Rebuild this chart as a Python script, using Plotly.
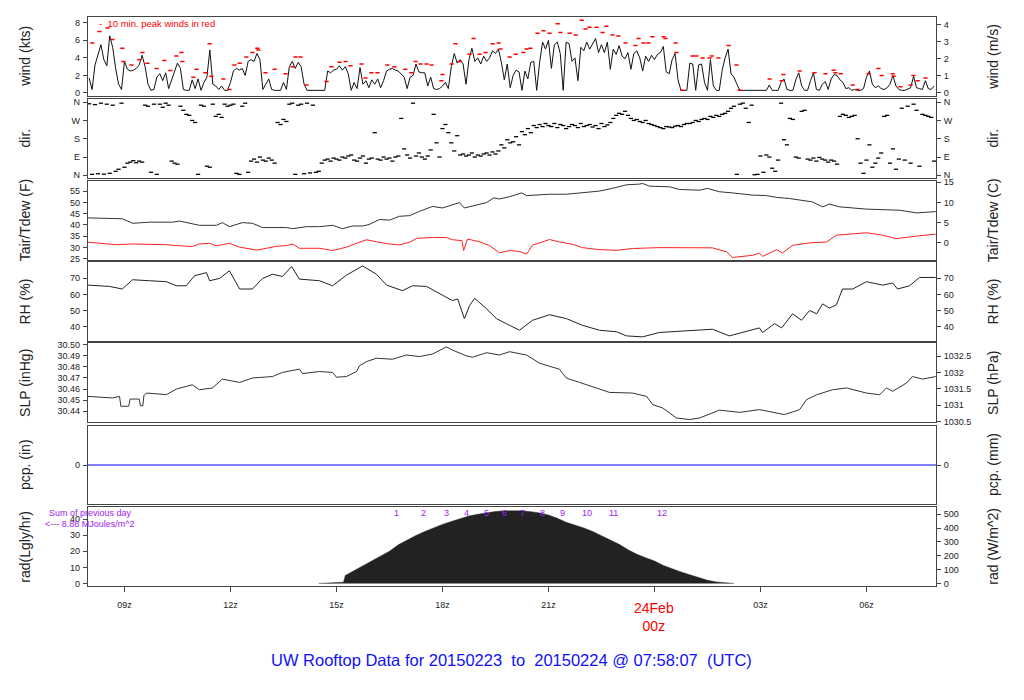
import plotly.graph_objects as go

T_START = 7.968
T_END = 31.968

# ---------------- data ----------------
# 5-minute wind speed (kts), starting 08:00z Feb 23
wind_kts = [
    1.7, 0.4, 3.2, 4.5, 5.5, 3.8, 3.1, 6.5, 5.2, 2.8, 1.0, 0.4,
    3.6, 2.7, 2.5, 2.6, 2.8, 3.2, 4.3, 3.0, 1.0, 0.3, 0.4, 1.8,
    2.2, 1.4, 2.3, 0.5, 1.5, 2.6, 3.4, 2.8, 0.4, 0.3, 0.3, 1.5,
    0.5, 1.6, 0.3, 1.2, 1.8, 4.9, 1.0, 0.8, 0.4, 0.8, 0.3, 0.3,
    1.2, 2.5, 2.8, 2.6, 2.8, 2.0, 3.6, 3.8, 3.6, 4.5, 3.8, 0.4,
    1.0, 1.6, 0.4, 0.3, 0.3, 0.3, 1.2, 0.4, 3.0, 3.6, 2.8, 3.5,
    3.0, 1.0, 0.3, 0.3, 0.3, 0.3, 0.3, 0.3, 0.3, 2.5, 2.3, 2.6,
    2.7, 3.1, 2.6, 3.0, 2.2, 0.3, 1.2, 0.5, 2.9, 1.0, 1.4, 0.6,
    1.5, 1.0, 1.6, 0.6, 1.4, 2.5, 2.7, 2.8, 2.6, 2.5, 2.2, 1.8,
    0.5, 1.8, 2.0, 3.3, 2.4, 2.3, 2.3, 0.8, 1.8, 0.5, 0.4, 0.5,
    0.8, 1.2, 0.5, 3.0, 4.5, 3.4, 3.8, 3.3, 1.0, 3.8, 5.1, 3.6,
    4.0, 3.3, 4.2, 3.6, 4.0, 4.8, 4.5, 5.0, 3.5, 1.5, 3.3, 0.6,
    2.0, 2.6, 2.4, 0.3, 2.5, 1.6, 3.5, 3.6, 0.3, 3.5, 5.8, 5.0,
    6.0, 2.8, 5.5, 5.8, 4.5, 0.3, 5.8, 5.6, 3.6, 4.0, 1.4, 5.2,
    4.8, 5.8, 5.0, 5.6, 6.2, 4.6, 5.5, 4.6, 5.8, 2.7, 5.0, 4.4,
    5.4, 4.2, 3.9, 4.6, 2.7, 4.5, 4.8, 4.0, 2.5, 4.2, 3.6, 4.3,
    3.8, 4.4, 4.6, 5.3, 2.4, 2.2, 3.8, 4.5, 1.5, 0.3, 0.3, 0.3,
    3.4, 3.3, 0.3, 3.2, 3.3, 1.2, 0.3, 3.8, 0.8, 0.3, 0.3, 2.6,
    4.0, 5.0, 2.2, 1.8, 1.0, 0.3, 0.3, 0.3, 0.3, 0.3, 0.3, 0.3,
    0.3, 0.3, 0.3, 0.9, 0.3, 0.3, 0.3, 1.2, 1.6, 0.4, 0.3, 0.3,
    1.5, 2.3, 0.8, 0.3, 0.3, 1.4, 2.3, 0.4, 0.3, 1.0, 1.3, 0.4,
    1.6, 2.1, 2.0, 1.5, 1.2, 0.5, 0.6, 0.3, 0.4, 0.3, 0.3, 0.5,
    1.8, 2.5, 1.0, 0.6, 0.8, 0.5, 0.4, 0.6, 1.0, 2.0, 0.8, 0.4,
    0.3, 0.3, 0.5, 0.6, 1.9, 0.6, 0.5, 0.4, 1.4, 0.5, 0.4, 0.8,
]

# 5-minute wind direction (deg), same times
wind_dir = [
    352, 5, 348, 8, 355, 6, 350, 10, 345, 20, 30, 355,
    40, 60, 65, 72, 62, 70, 65, 345, 340, 15, 350, 5,
    350, 335, 355, 345, 70, 60, 55, 340, 320, 300, 295, 270,
    260, 5, 345, 340, 45, 40, 350, 290, 300, 285, 350, 340,
    345, 350, 10, 5, 340, 355, 15, 70, 80, 65, 90, 75,
    70, 85, 75, 60, 260, 250, 275, 265, 350, 355, 5, 345,
    350, 8, 355, 12, 345, 15, 20, 60, 75, 80, 70, 85,
    80, 75, 90, 85, 95, 100, 75, 70, 85, 95, 60, 80,
    85, 210, 80, 75, 90, 80, 85, 70, 90, 95, 280, 130,
    100, 85, 355, 95, 110, 90, 80, 95, 125, 300, 160, 90,
    230, 250, 210, 160, 120, 195, 100, 105, 95, 100, 110, 90,
    100, 95, 105, 110, 100, 115, 105, 120, 150, 135, 175, 160,
    165, 190, 150, 215, 200, 230, 210, 245, 235, 250, 240, 255,
    245, 240, 255, 235, 250, 245, 230, 240, 250, 245, 235, 255,
    240, 245, 250, 238, 245, 230, 255, 240, 248, 260, 280, 295,
    305, 300, 315, 295, 280, 270, 275, 265, 260, 270, 255, 250,
    245, 240, 235, 230, 240, 238, 235, 242, 245, 240, 250, 255,
    255, 260, 270, 265, 275, 280, 275, 290, 285, 295, 290, 300,
    305, 315, 330, 340, 5, 350, 355, 330, 260, 345, 3, 5,
    95, 15, 100, 90, 35, 20, 75, 355, 175, 150, 280, 275,
    90, 85, 315, 320, 80, 75, 85, 70, 88, 80, 75, 65,
    75, 70, 55, 290, 300, 295, 285, 290, 295, 180, 60, 10,
    75, 150, 40, 60, 85, 110, 290, 295, 60, 130, 30, 80,
    330, 75, 340, 60, 350, 320, 45, 300, 295, 290, 285, 70,
]
wind_hours = [8.0 + i / 12 for i in range(len(wind_kts))]

# 10-minute peak winds (hours since 00z Feb 23, kts)
peak_hours = [8.09, 8.29, 8.52, 8.66, 8.94, 8.97, 9.20, 9.42, 9.51, 9.65, 9.91, 10.13, 10.30, 10.47,
              10.61, 10.64, 10.95, 11.04, 11.29, 11.41, 11.46, 11.80, 11.97, 12.11, 12.26, 12.45, 12.62,
              12.76, 12.79, 12.99, 13.25, 13.56, 13.76, 13.84, 13.98, 14.15, 14.72, 14.86, 15.09, 15.26,
              15.40, 15.71, 15.82, 15.99, 16.16, 16.44, 16.64, 16.95, 17.12, 17.24, 17.38, 17.55, 17.69,
              17.97, 18.00, 18.26, 18.37, 18.48, 18.77, 18.88, 19.05, 19.22, 19.42, 19.59, 19.64, 19.90,
              20.07, 20.29, 20.38, 20.49, 20.69, 20.86, 21.03, 21.26, 21.34, 21.60, 21.77, 21.94, 22.05,
              22.16, 22.36, 22.53, 22.64, 22.81, 22.98, 23.18, 23.46, 23.55, 23.69, 23.83, 23.94, 24.26,
              24.31, 24.60, 24.62, 24.79, 25.08, 25.19, 25.36, 25.56, 25.62, 25.81, 26.10, 26.32, 26.41,
              27.26, 27.60, 27.65, 28.11, 28.53, 28.84, 29.07, 29.12, 29.27, 29.61, 29.75, 30.06, 30.34,
              30.43, 30.74, 30.77, 30.96, 31.25, 31.33, 31.45, 31.67]
peak_kts = [5.7, 7.0, 7.4, 6.1, 5.1, 3.6, 3.2, 3.8, 4.6, 3.4, 2.8, 3.7, 2.55, 4.2,
            4.6, 3.6, 1.8, 2.7, 2.3, 5.6, 1.9, 1.6, 0.4, 3.2, 3.4, 4.1, 4.6,
            5.1, 4.9, 2.3, 2.7, 2.2, 3.0, 4.1, 4.1, 0.9, 1.3, 3.0, 3.5, 3.6,
            3.1, 3.3, 1.7, 2.3, 2.3, 3.2, 3.0, 2.7, 2.3, 3.6, 3.3, 3.3, 3.2,
            1.4, 2.1, 3.3, 5.6, 3.6, 4.4, 6.2, 4.4, 4.6, 5.6, 5.7, 5.0, 4.1,
            4.4, 4.6, 5.0, 5.1, 6.8, 7.1, 6.8, 7.9, 6.9, 6.8, 6.6, 8.3, 7.3,
            7.5, 7.5, 6.9, 7.6, 6.6, 6.5, 5.7, 5.4, 6.2, 5.7, 5.7, 6.4, 6.4,
            6.2, 5.7, 4.6, 0.3, 4.2, 4.2, 4.0, 4.0, 4.2, 4.0, 5.4, 3.2, 0.3,
            1.6, 1.4, 2.1, 2.5, 2.3, 2.2, 2.6, 2.3, 2.2, 0.9, 0.4, 2.2, 2.8,
            2.0, 2.2, 1.9, 0.7, 0.9, 2.0, 1.4, 1.7]

tair_hours = [7.97, 8.94, 9.23, 9.71, 10.36, 10.56, 11.12, 11.60, 11.77, 11.97, 12.34, 12.62, 12.91,
              13.19, 13.59, 13.76, 14.15, 14.52, 14.89, 15.17, 15.45, 15.74, 15.93, 16.22, 16.50, 16.78,
              17.07, 17.35, 17.72, 18.00, 18.48, 18.62, 18.85, 19.25, 19.45, 19.61, 19.90, 20.24, 20.38,
              21.03, 21.51, 21.96, 22.44, 22.81, 23.21, 23.58, 23.66, 23.86, 24.43, 24.71, 25.28, 25.50,
              25.84, 26.21, 26.78, 27.17, 27.46, 27.82, 28.11, 28.47, 28.76, 28.95, 29.24, 30.00, 30.94,
              31.42, 31.96]
tair_f = [43.1, 42.7, 40.7, 41.2, 41.2, 41.7, 39.8, 39.8, 41.0, 39.2, 41.0, 40.7, 38.8,
          38.8, 38.8, 38.3, 39.2, 39.2, 39.8, 38.3, 39.5, 39.5, 40.2, 42.4, 42.1, 43.8,
          44.1, 46.0, 48.2, 47.5, 49.9, 47.5, 48.5, 49.9, 52.0, 51.5, 52.5, 54.2, 53.0,
          53.6, 53.6, 54.2, 55.0, 56.2, 57.8, 58.1, 58.4, 57.2, 56.9, 55.7, 55.4, 56.2,
          54.7, 54.2, 53.2, 53.0, 52.2, 51.7, 51.0, 50.2, 48.0, 49.2, 48.0, 47.0, 46.5,
          45.3, 45.9]

tdew_hours = [7.97, 8.77, 9.23, 9.71, 10.19, 10.47, 10.92, 11.12, 11.41, 11.60, 11.97, 12.26, 12.74,
              13.02, 13.30, 13.59, 13.76, 13.95, 14.52, 14.89, 15.28, 15.65, 15.85, 16.13, 16.50, 16.78,
              17.07, 17.27, 17.72, 18.11, 18.28, 18.55, 18.60, 18.65, 18.71, 19.05, 19.33, 19.61, 19.90,
              20.18, 20.38, 20.55, 21.03, 21.31, 21.68, 21.96, 22.44, 22.93, 23.38, 24.14, 24.79, 25.64,
              26.04, 26.21, 26.78, 26.97, 27.06, 27.46, 27.62, 27.91, 28.39, 28.87, 29.15, 29.52, 30.00,
              30.46, 30.85, 31.42, 31.96]
tdew_f = [32.3, 31.2, 31.5, 31.5, 31.2, 30.8, 30.4, 31.5, 31.8, 30.7, 31.8, 30.1, 28.8,
          29.6, 30.5, 30.8, 31.5, 29.6, 29.6, 28.6, 30.1, 32.3, 33.4, 32.5, 31.5, 31.1,
          32.3, 34.0, 34.4, 34.4, 33.4, 33.0, 28.6, 31.0, 33.7, 32.5, 30.8, 27.6, 28.6,
          28.2, 27.0, 31.0, 33.5, 32.4, 31.4, 29.9, 29.0, 28.7, 29.5, 29.9, 29.9, 29.8,
          28.0, 25.5, 26.5, 27.5, 26.0, 29.0, 27.5, 30.9, 32.0, 32.4, 35.4, 35.9, 36.5,
          35.4, 33.9, 35.0, 35.9]

rh_hours = [7.97, 8.58, 8.94, 9.23, 9.71, 10.19, 10.47, 10.75, 10.98, 11.32, 11.41, 11.69, 11.97,
            12.26, 12.62, 12.91, 13.19, 13.47, 13.73, 13.95, 14.52, 14.89, 15.28, 15.74, 16.13, 16.42,
            16.87, 17.15, 17.55, 17.92, 18.11, 18.28, 18.43, 18.62, 18.77, 18.91, 19.25, 19.53, 19.90,
            20.18, 20.55, 21.03, 21.51, 21.96, 22.44, 22.93, 23.21, 23.66, 24.14, 24.79, 25.64, 26.12,
            26.78, 26.97, 27.06, 27.40, 27.60, 27.91, 28.16, 28.39, 28.59, 28.76, 28.95, 29.15, 29.32,
            29.61, 30.00, 30.46, 30.74, 30.88, 31.22, 31.50, 31.96]
rh_pct = [65.7, 64.9, 63.3, 69.0, 68.4, 67.8, 65.3, 65.3, 71.4, 73.4, 68.4, 69.8, 74.5,
          63.3, 63.3, 69.8, 72.4, 71.0, 77.1, 69.4, 68.4, 65.3, 71.8, 77.5, 72.4, 65.7,
          62.3, 65.3, 64.9, 60.3, 58.2, 56.2, 57.2, 45.1, 53.2, 57.6, 51.1, 45.1, 41.0,
          38.0, 44.1, 47.5, 45.1, 41.0, 38.0, 37.0, 34.5, 33.9, 36.6, 37.4, 38.6, 34.5,
          38.0, 39.4, 36.6, 42.0, 39.4, 48.1, 44.1, 50.1, 48.1, 54.2, 51.6, 53.6, 63.3,
          63.3, 67.8, 65.7, 67.0, 63.3, 65.3, 70.4, 70.4]

slp_hours = [7.97, 8.66, 8.86, 8.90, 9.12, 9.16, 9.42, 9.45, 9.52, 9.55, 9.62, 10.19, 10.47, 10.92,
             11.12, 11.49, 11.77, 12.26, 12.62, 13.19, 13.47, 13.95, 14.04, 14.52, 14.89, 15.00, 15.28,
             15.57, 15.65, 15.85, 16.13, 16.59, 16.98, 17.35, 17.72, 18.11, 18.28, 18.68, 18.85, 19.25,
             19.61, 19.90, 20.38, 20.75, 21.31, 21.51, 21.88, 22.44, 22.73, 23.38, 23.78, 23.95, 24.23,
             24.62, 24.99, 25.28, 25.84, 26.41, 26.97, 27.68, 28.11, 28.30, 28.59, 29.04, 29.44, 30.00,
             30.37, 30.57, 30.74, 31.13, 31.30, 31.59, 31.96]
slp_inhg = [30.4534, 30.4520, 30.4534, 30.4445, 30.4445, 30.4510, 30.4510, 30.4450, 30.4450, 30.4540,
            30.4564, 30.4550, 30.4600, 30.4639, 30.4594, 30.4610, 30.4690, 30.4660, 30.4700, 30.4713,
            30.4750, 30.4780, 30.4740, 30.4758, 30.4750, 30.4707, 30.4713, 30.4758, 30.4810, 30.4848,
            30.4878, 30.4869, 30.4907, 30.4893, 30.4916, 30.4980, 30.4952, 30.4899, 30.4887, 30.4928,
            30.4907, 30.4937, 30.4907, 30.4833, 30.4779, 30.4699, 30.4660, 30.4600, 30.4570, 30.4564,
            30.4534, 30.4460, 30.4430, 30.4340, 30.4325, 30.4340, 30.4410, 30.4390, 30.4415, 30.4370,
            30.4415, 30.4504, 30.4549, 30.4594, 30.4610, 30.4564, 30.4549, 30.4610, 30.4580, 30.4654,
            30.4713, 30.4690, 30.4713]

pcp_hours = [T_START, T_END]
pcp_in = [0.0, 0.0]

rad_hours = [14.50, 14.75, 15.00, 15.20, 15.25, 15.50, 15.75, 16.00, 16.25, 16.50, 16.75, 17.00, 17.25,
             17.50, 17.75, 18.00, 18.25, 18.50, 18.75, 19.00, 19.25, 19.50, 19.75, 20.00, 20.25, 20.50,
             20.75, 21.00, 21.25, 21.50, 21.75, 22.00, 22.25, 22.50, 22.75, 23.00, 23.25, 23.50, 23.75,
             24.00, 24.25, 24.50, 24.75, 25.00, 25.25, 25.50, 25.75, 26.00, 26.25]
rad_ly = [0.0, 0.2, 0.4, 0.8, 5.0, 8.0, 10.8, 13.5, 16.5, 20.0, 24.0, 27.0, 29.8,
          32.3, 34.6, 36.7, 38.5, 40.3, 41.9, 43.0, 44.0, 44.7, 45.1, 45.3, 45.1, 44.6,
          43.8, 42.5, 40.5, 38.0, 36.3, 34.5, 32.3, 29.8, 27.3, 24.3, 21.0, 18.2, 16.0,
          14.0, 11.2, 9.0, 7.2, 5.4, 3.7, 2.0, 1.0, 0.3, 0.0]

rad_mark_hours = [16.70, 17.46, 18.11, 18.68, 19.25, 19.76, 20.27, 20.83, 21.40, 22.08, 22.84, 24.20]
rad_mark_text = ["1", "2", "3", "4", "5", "6", "7", "8", "9", "10", "11", "12"]

x_tick_hours = [9, 12, 15, 18, 21, 24, 27, 30]
x_tick_text = ["09z", "12z", "15z", "18z", "21z", "", "03z", "06z"]

KTS_TO_MS = 0.514444
INHG_TO_HPA = 33.8639
LY_TO_WM2 = 11.622

# ---------------- layout helpers ----------------
W, H = 1024, 700
XL, XR = 88, 936
panel_px = [(13.3, 93.3), (96, 176), (179, 258.5), (261, 341), (343.3, 423.3), (426.7, 506), (509.3, 588.5)]

FONT = "Liberation Sans"
TXT = "#222222"
FRAME = "#444444"

def f2c(v):
    return (v - 32) / 1.8

panels = [
    dict(lrange=[-0.37, 8.64], ltv=[0, 2, 4, 6, 8], ltt=None,
         rrange=[-0.37 * KTS_TO_MS, 8.64 * KTS_TO_MS], rtv=[0, 1, 2, 3, 4], rtt=None,
         ltitle="wind (kts)", rtitle="wind (m/s)"),
    dict(lrange=[-13, 376], ltv=[0, 90, 180, 270, 360], ltt=["N", "E", "S", "W", "N"],
         rrange=[-13, 376], rtv=[0, 90, 180, 270, 360], rtt=["N", "E", "S", "W", "N"],
         ltitle="dir.", rtitle="dir."),
    dict(lrange=[24.6, 59.5], ltv=[25, 30, 35, 40, 45, 50, 55], ltt=None,
         rrange=[f2c(24.6), f2c(59.5)], rtv=[0, 5, 10, 15], rtt=None,
         ltitle="Tair/Tdew (F)", rtitle="Tair/Tdew (C)"),
    dict(lrange=[31.3, 79.9], ltv=[40, 50, 60, 70], ltt=None,
         rrange=[31.3, 79.9], rtv=[40, 50, 60, 70], rtt=None,
         ltitle="RH (%)", rtitle="RH (%)"),
    dict(lrange=[30.4299, 30.5012], ltv=[30.44, 30.45, 30.46, 30.47, 30.48, 30.49, 30.50],
         ltt=["30.44", "30.45", "30.46", "30.47", "30.48", "30.49", "30.50"],
         rrange=[30.4299 * INHG_TO_HPA, 30.5012 * INHG_TO_HPA], rtv=[1030.5, 1031, 1031.5, 1032, 1032.5],
         rtt=["1030.5", "1031", "1031.5", "1032", "1032.5"],
         ltitle="SLP (inHg)", rtitle="SLP (hPa)"),
    dict(lrange=[-1, 1], ltv=[0], ltt=["0"], rrange=[-1, 1], rtv=[0], rtt=["0"],
         ltitle="pcp. (in)", rtitle="pcp. (mm)"),
    dict(lrange=[-1.42, 47.2], ltv=[0, 10, 20, 30, 40], ltt=None,
         rrange=[-1.42 * LY_TO_WM2, 47.2 * LY_TO_WM2], rtv=[0, 100, 200, 300, 400, 500], rtt=None,
         ltitle="rad(Lgly/hr)", rtitle="rad (W/m^2)"),
]

fig = go.Figure()
layout = dict(width=W, height=H, margin=dict(l=0, r=0, t=0, b=0),
              paper_bgcolor="white", plot_bgcolor="white", showlegend=False,
              font=dict(family=FONT, color=TXT, size=9))
annotations = []

def ax_names(i):
    n = i + 1
    xk = "xaxis" if n == 1 else f"xaxis{n}"
    yk = "yaxis" if n == 1 else f"yaxis{n}"
    yrk = f"yaxis{n + 7}"
    xr = "x" if n == 1 else f"x{n}"
    yr = "y" if n == 1 else f"y{n}"
    yrr = f"y{n + 7}"
    return xk, yk, yrk, xr, yr, yrr

for i, p in enumerate(panels):
    xk, yk, yrk, xr, yr, yrr = ax_names(i)
    top, bot = panel_px[i]
    dom = [1 - bot / H, 1 - top / H]
    last = (i == len(panels) - 1)
    layout[xk] = dict(domain=[XL / W, XR / W], anchor=yr, range=[T_START, T_END],
                      showline=True, mirror=True, linecolor=FRAME, linewidth=1.2,
                      showgrid=False, zeroline=False,
                      ticks="outside" if last else "", ticklen=5, tickcolor=FRAME,
                      showticklabels=last, tickvals=x_tick_hours, ticktext=x_tick_text,
                      tickfont=dict(size=9, color=TXT), ticklabelstandoff=5)
    if i > 0:
        layout[xk]["matches"] = "x"
    layout[yk] = dict(domain=dom, anchor=xr, range=p["lrange"], autorange=False,
                      showline=True, mirror=True, linecolor=FRAME, linewidth=1.2,
                      showgrid=False, zeroline=False, ticks="outside", ticklen=4, tickcolor=FRAME,
                      tickvals=p["ltv"], tickfont=dict(size=9, color=TXT), ticklabelstandoff=1)
    if p["ltt"] is not None:
        layout[yk]["ticktext"] = p["ltt"]
    layout[yrk] = dict(overlaying=yr, anchor=xr, side="right", range=p["rrange"], autorange=False,
                       showline=False, showgrid=False, zeroline=False, ticks="outside", ticklen=4,
                       tickcolor=FRAME, tickvals=p["rtv"], tickfont=dict(size=9, color=TXT),
                       ticklabelstandoff=1)
    if p["rtt"] is not None:
        layout[yrk]["ticktext"] = p["rtt"]
    # register right axis
    fig.add_trace(go.Scatter(x=[], y=[], xaxis=xr, yaxis=yrr, hoverinfo="skip"))
    ymid = 1 - (top + bot) / 2 / H
    annotations.append(dict(text=p["ltitle"], xref="paper", yref="paper", x=25 / W, y=ymid,
                            textangle=-90, showarrow=False, font=dict(size=14, color=TXT),
                            xanchor="center", yanchor="middle"))
    annotations.append(dict(text=p["rtitle"], xref="paper", yref="paper", x=993 / W, y=ymid,
                            textangle=-90, showarrow=False, font=dict(size=14, color=TXT),
                            xanchor="center", yanchor="middle"))

# ---------------- traces ----------------
fig.add_trace(go.Scatter(x=wind_hours, y=wind_kts, mode="lines", xaxis="x", yaxis="y",
                         line=dict(color="#111111", width=1)))
fig.add_trace(go.Scatter(x=peak_hours, y=peak_kts, mode="markers", xaxis="x", yaxis="y",
                         marker=dict(symbol="line-ew", size=3, color="red",
                                     line=dict(color="red", width=1.5))))
fig.add_trace(go.Scatter(x=wind_hours, y=wind_dir, mode="markers", xaxis="x2", yaxis="y2",
                         marker=dict(symbol="line-ew", size=3, color="black",
                                     line=dict(color="black", width=1.3))))
fig.add_trace(go.Scatter(x=tair_hours, y=tair_f, mode="lines", xaxis="x3", yaxis="y3",
                         line=dict(color="#333333", width=1)))
fig.add_trace(go.Scatter(x=tdew_hours, y=tdew_f, mode="lines", xaxis="x3", yaxis="y3",
                         line=dict(color="#ff2020", width=1)))
fig.add_trace(go.Scatter(x=rh_hours, y=rh_pct, mode="lines", xaxis="x4", yaxis="y4",
                         line=dict(color="#222222", width=1)))
fig.add_trace(go.Scatter(x=slp_hours, y=slp_inhg, mode="lines", xaxis="x5", yaxis="y5",
                         line=dict(color="#333333", width=1)))
fig.add_trace(go.Scatter(x=pcp_hours, y=pcp_in, mode="lines", xaxis="x6", yaxis="y6",
                         line=dict(color="blue", width=1)))
fig.add_trace(go.Scatter(x=rad_hours, y=rad_ly, mode="lines", xaxis="x7", yaxis="y7",
                         fill="tozeroy", fillcolor="#222222", line=dict(color="#222222", width=0.5)))

# ---------------- annotations ----------------
annotations.append(dict(text="-  10 min. peak winds in red", xref="paper", yref="paper",
                        x=97 / W, y=1 - 19.5 / H, xanchor="left", yanchor="middle", showarrow=False,
                        font=dict(size=9.5, color="red")))
annotations.append(dict(text="Sum of previous day", xref="paper", yref="paper",
                        x=90 / W, y=1 - 515 / H, xanchor="center", yanchor="middle", showarrow=False,
                        font=dict(size=9, color="#a020f0")))
annotations.append(dict(text="<--- 8.88 MJoules/m^2", xref="paper", yref="paper",
                        x=90 / W, y=1 - 526.5 / H, xanchor="center", yanchor="middle", showarrow=False,
                        font=dict(size=9, color="#a020f0")))
for h, t in zip(rad_mark_hours, rad_mark_text):
    annotations.append(dict(text=t, xref="x7", yref="paper", x=h, y=1 - 515 / H,
                            xanchor="center", yanchor="middle", showarrow=False,
                            font=dict(size=9, color="#a020f0")))
annotations.append(dict(text="24Feb<br>00z", xref="x7", yref="paper", x=24, y=1 - 601 / H,
                        xanchor="center", yanchor="top", showarrow=False,
                        font=dict(size=14, color="red")))
annotations.append(dict(text="UW Rooftop Data for 20150223 \u00a0to \u00a020150224 @ 07:58:07 \u00a0(UTC)",
                        xref="paper", yref="paper", x=511 / W, y=1 - 664 / H,
                        xanchor="center", yanchor="middle", showarrow=False,
                        font=dict(size=16.5, color="#1010ff")))

layout["annotations"] = annotations
fig.update_layout(**layout)
fig.write_html("out.html", config={"displayModeBar": False},
               post_script="document.body.style.margin='0px';document.body.style.overflow='hidden';")
